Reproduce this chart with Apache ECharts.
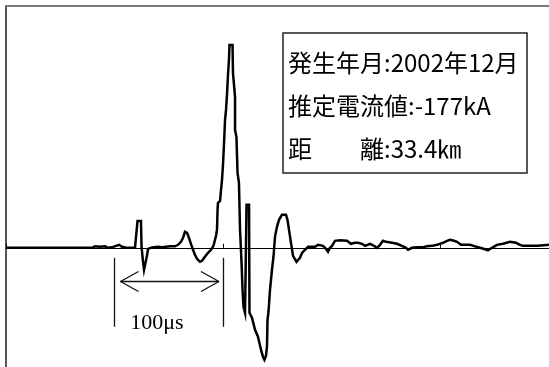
<!DOCTYPE html>
<html><head><meta charset="utf-8">
<script src="https://cdn.jsdelivr.net/npm/echarts/dist/echarts.min.js"></script>
<style>html,body{margin:0;padding:0;background:#fff}#c{width:549px;height:367px}</style>
</head><body><div id="c"></div>
<script>
// time in microseconds
const timeUs = [0,66.3,68.1,70.0,79.2,82.0,86.6,91.2,93.9,97.6,101.3,104.1,106.8,110.5,118.8,120.6,121.1,124.3,124.8,126.2,
127.1,128.9,129.8,130.8,132.6,134.4,140.0,143.6,147.3,151.0,155.6,158.4,161.1,163.0,164.8,166.7,168.5,170.3,172.2,174.0,
175.9,178.6,180.5,183.2,186.0,188.8,190.6,191.5,193.4,194.3,194.8,195.2,197.1,198.0,198.9,199.8,200.7,201.7,202.6,203.5,
204.4,205.3,205.8,208.6,209.0,210.9,210.9,212.2,213.2,214.5,215.5,216.9,217.8,218.7,220.1,221.5,221.5,223.8,224.2,226.5,
229.3,232.0,234.8,236.6,238.0,239.4,240.3,240.8,241.7,243.1,244.9,246.3,247.7,249.5,251.4,254.1,257.8,259.2,260.6,262.4,
264.3,267.5,270.7,272.6,275.3,278.1,284.5,287.3,291.9,294.7,296.5,298.3,300.2,302.9,307.6,314.0,317.7,321.4,324.1,327.8,
330.6,335.2,338.9,341.6,344.4,347.1,349.9,351.7,355.4,360.0,364.6,368.3,370.2,373.8,378.5,383.1,387.7,392.3,396.9,402.4,
406.1,408.8,412.5,415.3,419.0,423.6,427.3,431.9,436.5,441.1,443.8,447.5,452.1,457.6,464.1,469.6,473.3,476.1,482.5,489.0,
495.4,500.0];
// current in kA (relative, peak magnitude 177)
const currentKA = [0,0,1.7,0,0,1.3,0.9,1.3,0,0.4,1.7,2.6,0.9,0,0,0.9,23.5,23.5,0.9,-12.2,
-19.2,-19.2,-7.0,-0.9,-1.7,0.4,0.9,0.4,0.9,1.3,1.3,2.6,5.2,8.7,14.0,13.1,8.7,3.5,-1.7,-6.1,
-9.6,-12.2,-11.3,-7.8,-4.4,-1.7,0.9,3.5,10.5,15.7,33.1,39.2,41.0,50.6,59.3,72.4,89.8,111.6,120.3,133.4,
150.8,163.9,177.0,177.0,152.6,131.7,102.9,96.8,65.4,56.7,15.7,-13.1,-36.6,-51.4,-56.7,-56.7,37.5,37.5,-56.7,-61.0,
-71.5,-77.6,-88.9,-95.0,-97.7,-94.2,-86.3,-62.8,-55.8,-36.6,-19.2,-7.8,9.6,18.3,24.4,28.8,28.8,24.4,15.7,4.4,
-7.0,-12.2,-8.7,-4.4,-1.7,0.9,0.9,2.6,1.7,-0.9,-3.5,0,1.7,6.1,6.5,6.1,3.5,4.4,4.4,3.5,
1.7,3.5,1.7,0,2.6,6.1,5.2,4.4,4.4,3.5,1.7,0,-1.7,0,0.4,0.4,1.3,1.7,2.6,4.4,
6.1,7.0,6.1,5.2,2.6,2.6,2.6,1.3,0,-1.3,-2.2,0,2.6,3.5,5.2,4.4,2.6,1.7,1.7,1.7,
2.2,2.6];
const infoLines = ['発生年月:2002年12月', '推定電流値:-177kA', '距　　離:33.4㎞'];
const scaleBarFrom = 100, scaleBarTo = 200;   // µs
const scaleBarLabel = '100μs';

const chart = echarts.init(document.getElementById('c'), null, {renderer: 'canvas'});
const pts = timeUs.map((t, i) => [t, currentKA[i]]);

const barTop = -8.7, barBottom = -68.9, arrowV = -29.4, headDv = 8.7, headDt = 16.6, tipGap = 5.4;
const L = (a, b) => [{coord: a}, {coord: b}];
const markLines = [
  L([scaleBarFrom, barTop], [scaleBarFrom, barBottom]),
  L([scaleBarTo, barTop], [scaleBarTo, barBottom]),
  L([scaleBarFrom + tipGap, arrowV], [scaleBarTo - 3.9, arrowV]),
  L([scaleBarFrom + tipGap, arrowV], [scaleBarFrom + tipGap + headDt, arrowV + headDv]),
  L([scaleBarFrom + tipGap, arrowV], [scaleBarFrom + tipGap + headDt, arrowV - headDv]),
  L([scaleBarTo - 3.9, arrowV], [scaleBarTo - 3.9 - headDt, arrowV + headDv]),
  L([scaleBarTo - 3.9, arrowV], [scaleBarTo - 3.9 - headDt, arrowV - headDv])
];

chart.setOption({
  animation: false,
  backgroundColor: '#fff',
  grid: {left: 6, top: 6, right: 0, bottom: 0, containLabel: false},
  xAxis: [
    {type: 'value', min: 0, max: 500, position: 'top',
     axisLine: {show: true, onZero: false, lineStyle: {color: '#7a7a7a', width: 2}},
     axisTick: {show: false}, axisLabel: {show: false}, splitLine: {show: false}},
    {type: 'value', min: 0, max: 500, position: 'bottom', interval: 200,
     axisLine: {show: true, onZero: true, lineStyle: {color: '#000', width: 1}},
     axisTick: {show: true, inside: true, length: 4, lineStyle: {color: '#000', width: 1}},
     axisLabel: {show: false}, splitLine: {show: false}}
  ],
  yAxis: {type: 'value', min: -104, max: 211,
    axisLine: {show: true, lineStyle: {color: '#555', width: 2}},
    axisTick: {show: false}, axisLabel: {show: false}, splitLine: {show: false}},
  series: [{
    type: 'line', xAxisIndex: 0, data: pts, symbol: 'none', showSymbol: false,
    lineStyle: {color: '#000', width: 2.5, join: 'miter'},
    markLine: {silent: true, symbol: ['none', 'none'], label: {show: false},
      lineStyle: {color: '#111', width: 1.3, type: 'solid'}, data: markLines},
    markPoint: {silent: true, data: [{coord: [139, -65.4], symbol: 'rect', symbolSize: 1,
      itemStyle: {color: 'rgba(0,0,0,0)'},
      label: {show: true, position: 'inside', formatter: scaleBarLabel, color: '#000',
        fontFamily: '"Liberation Serif", "Times New Roman", serif', fontSize: 22}}]}
  }],
  graphic: [
    {type: 'rect', z: 10, shape: {x: 283, y: 33, width: 244, height: 140},
     style: {fill: '#fff', stroke: '#222', lineWidth: 1.5}}
  ].concat(infoLines.map((s, i) => ({
    type: 'text', z: 11, x: 288, y: 62.5 + i * 43,
    style: {text: s, fill: '#000', fontSize: 24, fontFamily: '"Noto Sans CJK JP"', verticalAlign: 'middle'}
  })))
});
</script>
</body></html>
